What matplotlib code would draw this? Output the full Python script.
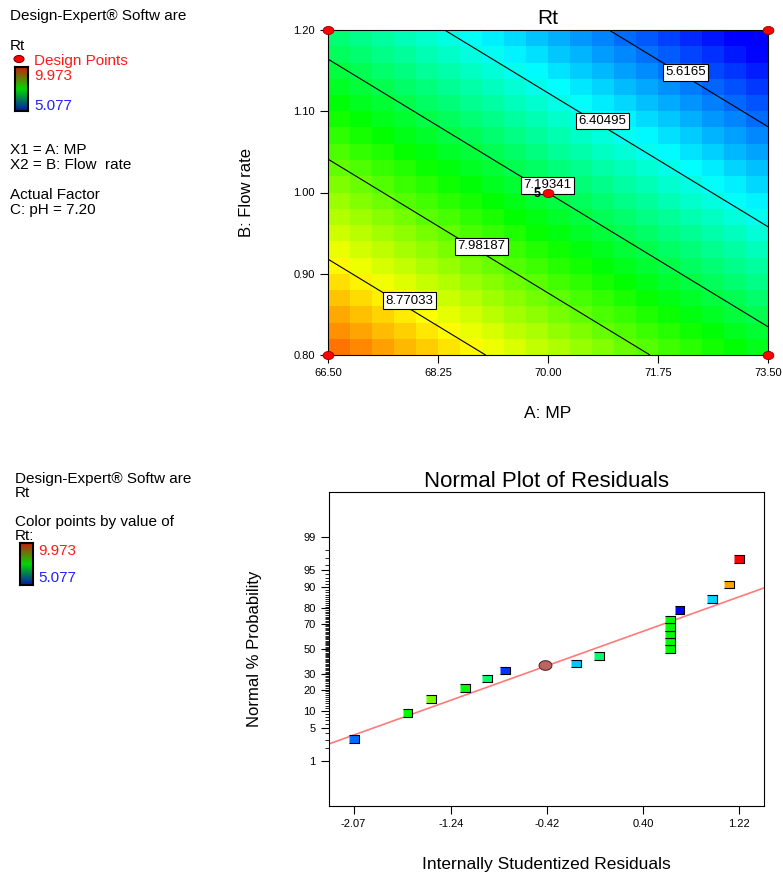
import numpy as np
import matplotlib
matplotlib.use('Agg')
import matplotlib.pyplot as plt
from matplotlib.colors import LinearSegmentedColormap
from matplotlib.patches import Ellipse
from matplotlib.ticker import NullFormatter
from statistics import NormalDist

plt.rcParams['font.family'] = ['Liberation Sans', 'DejaVu Sans']

# ---- data ----
rt_min, rt_max = 5.077, 9.973

# contour plot (A: MP, B: Flow rate), C: pH = 7.20
mp_ticks = [66.50, 68.25, 70.00, 71.75, 73.50]
flow_ticks = [0.80, 0.90, 1.00, 1.10, 1.20]
# linear model in coded units: Rt = b0 + bA*xA + bB*xB
b0, bA, bB = 7.19, -1.055, -1.281
contour_levels = [5.6165, 6.40495, 7.19341, 7.98187, 8.77033]
design_mp = [66.5, 73.5, 66.5, 73.5, 70.0]
design_flow = [0.8, 0.8, 1.2, 1.2, 1.0]
center_runs = 5

# normal plot of residuals
res_ticks = [-2.07, -1.24, -0.42, 0.40, 1.22]
prob_ticks = [1, 5, 10, 20, 30, 50, 70, 80, 90, 95, 99]
resid = [-2.07, -1.61, -1.41, -1.12, -0.93, -0.78, -0.17, 0.02,
         0.63, 0.63, 0.63, 0.63, 0.63, 0.71, 0.99, 1.13, 1.22]
prob = [3.1, 9.2, 15.0, 21.0, 26.8, 32.6, 38.2, 44.2,
        50.0, 56.0, 61.8, 67.7, 73.2, 79.2, 85.1, 91.0, 96.9]
rt_of_point = [5.6, 7.5, 8.1, 7.5, 7.0, 5.35, 6.05, 7.0,
               7.5, 7.5, 7.5, 7.5, 7.5, 5.08, 6.1, 9.18, 9.973]
hl_resid, hl_prob = -0.44, 36.7
line_b0, line_slope = 0.02, 0.873

# ---- styles ----
de_cmap = LinearSegmentedColormap.from_list(
    'de', ['#0000ff', '#00ffff', '#00ff00', '#ffff00', '#ff0000'])
legend_cmap = LinearSegmentedColormap.from_list(
    'leg', ['#0018b0', '#00d800', '#c82010'])
W, H = 783, 874


def fx(px):
    return px / W


def fy(py):
    return 1 - py / H


fig = plt.figure(figsize=(W / 100, H / 100), dpi=100)

# ---------------- top: contour plot ----------------
ax1 = fig.add_axes([fx(328), fy(355), 440 / W, 325 / H])
edges_a = np.linspace(mp_ticks[0], mp_ticks[-1], 21)
edges_b = np.linspace(flow_ticks[0], flow_ticks[-1], 21)
ca = (edges_a[:-1] + edges_a[1:]) / 2
cb = (edges_b[:-1] + edges_b[1:]) / 2


def model(a, b):
    return b0 + bA * (a - 70.0) / 3.5 + bB * (b - 1.0) / 0.2


CA, CB = np.meshgrid(ca, cb)
ax1.pcolormesh(edges_a, edges_b, model(CA, CB), cmap=de_cmap,
               vmin=rt_min, vmax=rt_max, shading='flat')
FA, FB = np.meshgrid(np.linspace(66.5, 73.5, 200), np.linspace(0.8, 1.2, 200))
ax1.contour(FA, FB, model(FA, FB), levels=contour_levels, colors='black',
            linewidths=0.8)
# label anchors (where the boxes sit on each line)
label_pos = [(72.19, 1.148), (70.87, 1.088), (69.99, 1.009),
             (68.94, 0.934), (67.80, 0.867)]
for lvl, (la, lb) in zip(contour_levels, label_pos):
    ax1.text(la, lb, f'{lvl:g}', fontsize=9.5, ha='center', va='center',
             bbox=dict(boxstyle='square,pad=0.18', fc='white', ec='black', lw=0.8))

ell = [(np.cos(t), 0.75 * np.sin(t)) for t in np.linspace(0, 2 * np.pi, 40)]
ax1.scatter(design_mp, design_flow, marker=ell, s=60, c='#ff0000',
            edgecolors='#900000', linewidths=0.6, clip_on=False, zorder=5)
ax1.annotate(str(center_runs), (design_mp[-1], design_flow[-1]), xytext=(-8, -1),
             textcoords='offset points', ha='center', va='center',
             fontsize=9, fontweight='bold', zorder=6)

ax1.set_xlim(mp_ticks[0], mp_ticks[-1])
ax1.set_ylim(flow_ticks[0], flow_ticks[-1])
ax1.set_xticks(mp_ticks)
ax1.set_xticklabels([f'{t:.2f}' for t in mp_ticks])
ax1.set_yticks(flow_ticks)
ax1.set_yticklabels([f'{t:.2f}' for t in flow_ticks])
ax1.tick_params(direction='out', length=6, width=0.8, labelsize=8)
ax1.set_title('Rt', fontsize=15, pad=4)
ax1.set_xlabel('A: MP', fontsize=12.5, labelpad=20)
ax1.set_ylabel('B: Flow rate', fontsize=12, labelpad=28)

# ---------------- bottom: normal plot ----------------
nd = NormalDist()
_inv = np.vectorize(nd.inv_cdf, otypes=[float])
_cdf = np.vectorize(nd.cdf, otypes=[float])


def p_to_z(p):
    p = np.clip(np.asarray(p, dtype=float) / 100.0, 1e-9, 1 - 1e-9)
    return _inv(p)


def z_to_p(z):
    return _cdf(np.asarray(z, dtype=float)) * 100.0


ax2 = fig.add_axes([fx(329), fy(806), 435 / W, 314 / H])
ax2.set_yscale('function', functions=(p_to_z, z_to_p))
xlim = (-2.28, 1.43)
ax2.set_xlim(*xlim)
ax2.set_ylim(float(z_to_p(-3.26)), float(z_to_p(3.26)))

xs = np.array(xlim)
ax2.plot(xs, z_to_p(line_b0 + line_slope * xs), color='#ff7a7a', lw=1.2, zorder=2)
rect = [(-1, -0.75), (1, -0.75), (1, 0.75), (-1, 0.75)]
ax2.scatter(resid, prob, c=rt_of_point, cmap=de_cmap, vmin=rt_min, vmax=rt_max,
            marker=rect, s=50, edgecolors='black', linewidths=0.8, zorder=3)
ax2.scatter([hl_resid], [hl_prob], marker=ell, s=85, c='#bb6464',
            edgecolors='#5a2a2a', linewidths=0.8, zorder=3)

ax2.set_xticks(res_ticks)
ax2.set_xticklabels([f'{t:.2f}' for t in res_ticks])
ax2.set_yticks(prob_ticks)
ax2.set_yticklabels([str(t) for t in prob_ticks])
ax2.set_yticks([p for p in range(2, 99) if p not in prob_ticks], minor=True)
ax2.yaxis.set_minor_formatter(NullFormatter())
ax2.tick_params(which='major', direction='out', length=6, width=0.8, labelsize=8)
ax2.tick_params(which='minor', direction='out', length=3, width=0.6)
ax2.set_title('Normal Plot of Residuals', fontsize=16, pad=0)
ax2.set_xlabel('Internally Studentized Residuals', fontsize=12.5, labelpad=20)
ax2.set_ylabel('Normal % Probability', fontsize=12, labelpad=30)

# ---------------- left side legend texts ----------------
fs = 11
fig.text(fx(10), fy(16), 'Design-Expert® Softw are', fontsize=fs, va='center')
fig.text(fx(10), fy(46), 'Rt', fontsize=fs, va='center')
fig.add_artist(Ellipse((fx(19), fy(59)), 10 / W, 7 / H, transform=fig.transFigure,
                       fc='#ff0000', ec='#800000', lw=0.8))
fig.text(fx(34), fy(61), 'Design Points', fontsize=fs, va='center', color='#ff1a1a')
fig.text(fx(34), fy(76), f'{rt_max:.3f}', fontsize=fs, va='center', color='#ff1a1a')
fig.text(fx(34), fy(106), f'{rt_min:.3f}', fontsize=fs, va='center', color='#2020ff')
fig.text(fx(10), fy(150), 'X1 = A: MP', fontsize=fs, va='center')
fig.text(fx(10), fy(165), 'X2 = B: Flow  rate', fontsize=fs, va='center')
fig.text(fx(10), fy(195), 'Actual Factor', fontsize=fs, va='center')
fig.text(fx(10), fy(210), 'C: pH = 7.20', fontsize=fs, va='center')

fig.text(fx(15), fy(479), 'Design-Expert® Softw are', fontsize=fs, va='center')
fig.text(fx(15), fy(493), 'Rt', fontsize=fs, va='center')
fig.text(fx(15), fy(522), 'Color points by value of', fontsize=fs, va='center')
fig.text(fx(15), fy(536), 'Rt:', fontsize=fs, va='center')
fig.text(fx(38), fy(551), f'{rt_max:.3f}', fontsize=fs, va='center', color='#ff1a1a')
fig.text(fx(38), fy(578), f'{rt_min:.3f}', fontsize=fs, va='center', color='#2020ff')

for left, top, bottom in [(15, 67, 111), (20, 543, 585)]:
    cax = fig.add_axes([fx(left), fy(bottom), 13 / W, (bottom - top) / H])
    cax.imshow(np.linspace(1, 0, 60)[:, None], aspect='auto', cmap=legend_cmap)
    cax.set_xticks([])
    cax.set_yticks([])
    for sp in cax.spines.values():
        sp.set_linewidth(1.5)

fig.savefig('out.png', dpi=100)
